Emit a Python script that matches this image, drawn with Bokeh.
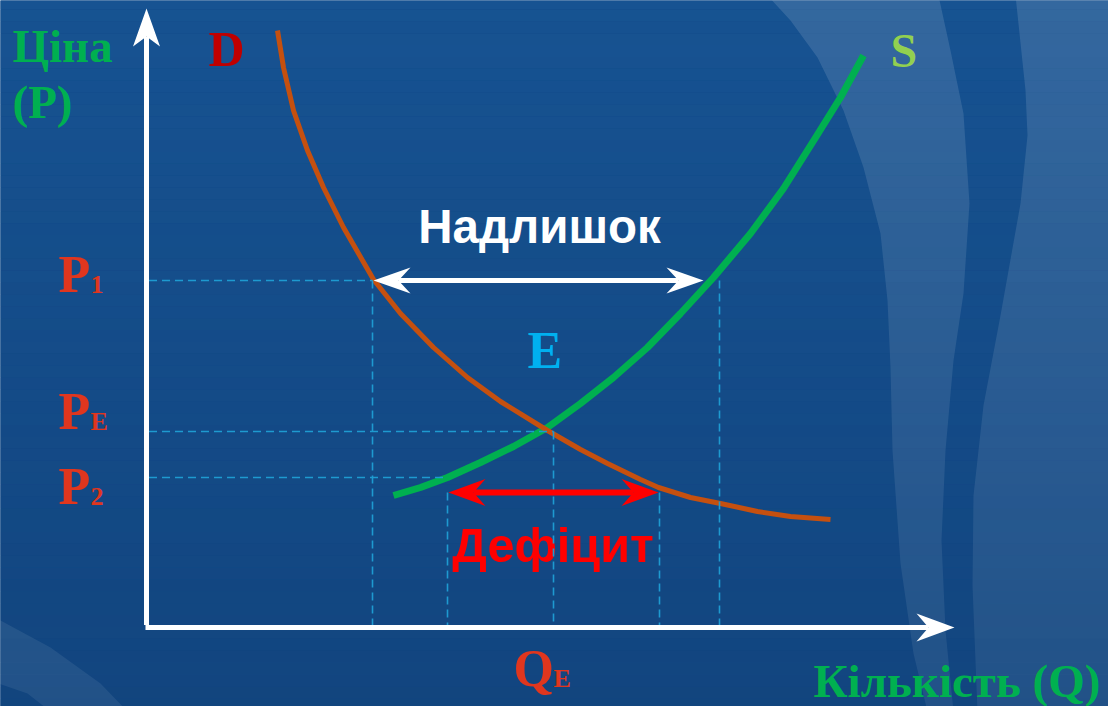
import numpy as np
from bokeh.plotting import figure
from bokeh.models import Range1d
from bokeh.core.properties import value
from bokeh.embed import file_html
from bokeh.resources import INLINE

# ---------------- values (quantity Q, price P) ----------------
demand_q = [2.62, 2.74, 2.94, 3.22, 3.54, 3.94, 4.54, 5.08, 5.74, 6.42, 7.08, 8.02,
            8.68, 9.22, 9.88, 10.24, 10.88, 11.48, 12.22, 12.88, 13.68]
demand_p = [11.94, 11.20, 10.34, 9.54, 8.80, 8.00, 6.96, 6.28, 5.60, 5.00, 4.52, 3.94,
            3.56, 3.28, 2.96, 2.80, 2.60, 2.48, 2.32, 2.22, 2.16]

supply_q = [4.94, 5.48, 6.02, 6.68, 7.34, 8.02, 8.68, 9.34, 10.02, 10.68, 11.34, 12.08,
            12.74, 13.42, 13.88, 14.34]
supply_p = [2.64, 2.80, 3.00, 3.30, 3.62, 4.00, 4.48, 5.00, 5.60, 6.28, 7.00, 7.88,
            8.78, 9.86, 10.60, 11.44]

price_levels = [6.94, 3.92, 3.00]          # P1, PE, P2
price_tick_main = ["P", "P", "P"]
price_tick_sub = ["1", "E", "2"]

q_demand_p1 = 4.52
q_supply_p2 = 6.02
q_equilibrium = 8.14
q_demand_p2 = 10.26
q_supply_p1 = 11.46

surplus_from, surplus_to = 4.54, 11.14     # at P1
deficit_level = 2.70
deficit_from, deficit_to = 6.04, 10.24

axis_q_end = 16.16
axis_p_end = 12.38

y_title_lines = ["Ціна", "(P)"]
x_title = "Кількість (Q)"
surplus_label = "Надлишок"
deficit_label = "Дефіцит"
eq_label = "E"
demand_label = "D"
supply_label = "S"
q_tick_main = "Q"
q_tick_sub = "E"

# ---------------- layout ----------------
PX = 50.0   # pixels per unit
W, H = 1108, 706
p = figure(width=W, height=H, x_range=Range1d(-2.92, 19.24), y_range=Range1d(-1.58, 12.54),
           output_backend="svg", toolbar_location=None, min_border=0,
           x_axis_type=None, y_axis_type=None, outline_line_color=None)
p.grid.visible = False
p.background_fill_color = "#154c88"
p.border_fill_color = "#154c88"

def to_data(pts):
    return [(x - 146) / PX for x, y in pts], [(627 - y) / PX for x, y in pts]

# background gradient
n = 60
top = np.array([23, 83, 146]); bot = np.array([18, 69, 127])
edges = np.linspace(12.6, -1.65, n + 1)
cols = ["#%02x%02x%02x" % tuple(int(round(c)) for c in top + (bot - top) * (i + 0.5) / n) for i in range(n)]
p.quad(left=-3.0, right=19.4, top=edges[:-1], bottom=edges[1:], fill_color=cols, line_color=None)

# translucent waves
band1 = [(767, -5), (790, 20), (817, 57), (843, 110), (863, 167), (880, 233), (887, 300), (890, 367),
         (892, 450), (900, 563), (913, 653), (927, 711), (953, 711), (945, 630), (941, 540), (945, 450),
         (953, 360), (963, 293), (969, 203), (963, 113), (950, 50), (938, -5)]
band2 = [(1015, -5), (1025, 90), (1027, 135), (1020, 203), (1000, 315), (983, 405), (973, 495),
         (972, 585), (977, 711), (1115, 711), (1115, -5)]
band3 = [(-5, 618), (0, 620), (50, 647), (100, 683), (127, 711), (50, 711), (27, 693), (-5, 682)]
bx, by = [], []
for b in (band1, band2, band3):
    xs, ys = to_data(b)
    bx.append(xs); by.append(ys)
p.patches(bx, by, fill_color="white", fill_alpha=0.125, line_color=None)
alph = list(np.linspace(0.0, 0.45, n))
p.quad(left=-3.0, right=19.4, top=edges[:-1], bottom=edges[1:], fill_color=cols, fill_alpha=alph, line_color=None)

# curves
p.line(supply_q, supply_p, line_color="#00b050", line_width=7, line_join="round")
p.line(demand_q, demand_p, line_color="#c5500f", line_width=5, line_join="round")

# texts (y given as baseline; renderer places alphabetic baseline ~0.36em low, so lift it)
SERIF = value("Liberation Serif")
SANS = value("Liberation Sans")
LIFT = 0.36

def txt(x, y, s, color, size, font=SERIF, align="left"):
    p.text(x=[x], y=[y + LIFT * size / PX], text=[s], text_color=color, text_font=font,
           text_font_style="bold", text_font_size=f"{size}px", text_align=align,
           text_baseline="alphabetic")

txt(-2.68, 11.30, y_title_lines[0], "#00b050", 47)
txt(-2.68, 10.18, y_title_lines[1], "#00b050", 47)
txt(13.34, -1.40, x_title, "#00b050", 47)
txt(1.24, 11.22, demand_label, "#c00000", 50)
txt(14.88, 11.20, supply_label, "#92d050", 48)
txt(7.62, 5.16, eq_label, "#00b0f0", 52)
txt(7.86, 7.68, surplus_label, "white", 47.5, SANS, "center")
txt(8.13, 1.30, deficit_label, "#ff0000", 48.5, SANS, "center")

label_base = [6.68, 3.94, 2.44]   # baselines of P1, PE, P2 labels
for lvl, m, s in zip(label_base, price_tick_main, price_tick_sub):
    txt(-1.76, lvl, m, "#e0361e", 52)
    txt(-1.12, lvl, s, "#e0361e", 26)
txt(7.34, -1.20, q_tick_main, "#e0361e", 52)
txt(8.14, -1.20, q_tick_sub, "#e0361e", 26)

# dashed guides
DASH = dict(line_color="#1e9ad0", line_width=1.6, line_dash="8 5")
p.segment(x0=[0.05] * 3, y0=price_levels, x1=[q_demand_p1, q_equilibrium, q_supply_p2], y1=price_levels, **DASH)
vx = [q_demand_p1, q_supply_p2, q_equilibrium, q_demand_p2, q_supply_p1]
vy = [price_levels[0], deficit_level, price_levels[1], deficit_level, price_levels[0]]
p.segment(x0=vx, y0=vy, x1=vx, y1=[0.0] * 5, **DASH)

# arrows
def head(tx, ty, ux, uy, length, half, notch):
    L, Hh, N = length / PX, half / PX, notch / PX
    nx, ny = -uy, ux
    bxx, byy = tx - ux * L, ty - uy * L
    return ([tx, bxx + nx * Hh, tx - ux * N, bxx - nx * Hh],
            [ty, byy + ny * Hh, ty - uy * N, byy - ny * Hh])

P1 = price_levels[0]
p.segment(x0=[surplus_from + 25 / PX], y0=[P1], x1=[surplus_to - 25 / PX], y1=[P1], line_color="white", line_width=5)
p.segment(x0=[deficit_from + 25 / PX], y0=[deficit_level], x1=[deficit_to - 25 / PX], y1=[deficit_level],
          line_color="#ff0000", line_width=6)
p.segment(x0=[0.0], y0=[0.05], x1=[0.0], y1=[axis_p_end - 28 / PX], line_color="white", line_width=5)
p.segment(x0=[-0.02], y0=[0.0], x1=[axis_q_end - 26 / PX], y1=[0.0], line_color="white", line_width=5)

wh = [head(surplus_from, P1, -1, 0, 37, 13, 25), head(surplus_to, P1, 1, 0, 37, 13, 25),
      head(0.0, axis_p_end, 0, 1, 38, 13.5, 28), head(axis_q_end, 0.0, 1, 0, 38, 14, 26)]
p.patches([h[0] for h in wh], [h[1] for h in wh], fill_color="white", line_color=None)
rh = [head(deficit_from, deficit_level, -1, 0, 37, 13.5, 25), head(deficit_to, deficit_level, 1, 0, 37, 13.5, 25)]
p.patches([h[0] for h in rh], [h[1] for h in rh], fill_color="#ff0000", line_color=None)

open("out.html", "w").write(file_html(p, INLINE))
